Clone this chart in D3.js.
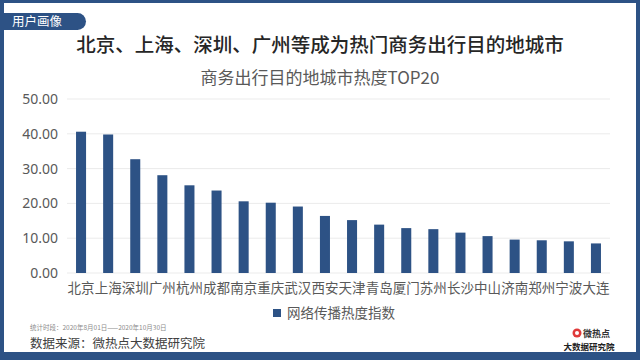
<!DOCTYPE html>
<html><head><meta charset="utf-8">
<script src="https://cdn.jsdelivr.net/npm/d3@7"></script>
<style>
html,body{margin:0;padding:0;background:#fff;}
svg{display:block;font-family:"Noto Sans CJK SC","Noto Sans",sans-serif;}
</style></head>
<body>
<svg id="c" width="640" height="360"></svg>
<script>
const categories = ["北京","上海","深圳","广州","杭州","成都","南京","重庆","武汉","西安","天津","青岛","厦门","苏州","长沙","中山","济南","郑州","宁波","大连"];
const values = [40.6, 39.8, 32.7, 28.1, 25.2, 23.7, 20.6, 20.2, 19.1, 16.4, 15.2, 13.9, 12.9, 12.6, 11.6, 10.6, 9.6, 9.4, 9.1, 8.5];
const yTicks = [0, 10, 20, 30, 40, 50];
const seriesName = "网络传播热度指数";
const title = "北京、上海、深圳、广州等成为热门商务出行目的地城市";
const subtitle = "商务出行目的地城市热度TOP20";
const tabLabel = "用户画像";
const periodNote = "统计时段：2020年8月01日——2020年10月30日";
const sourceNote = "数据来源：微热点大数据研究院";

const blue = "#2d5285";
const svg = d3.select("#c");

// frame
svg.append("rect").attr("x",0).attr("y",0).attr("width",640).attr("height",360).attr("fill",blue);
svg.append("rect").attr("x",4).attr("y",3).attr("width",632).attr("height",349).attr("fill","#fff");

// tab
svg.append("path").attr("fill",blue)
  .attr("d","M0,13 L77.5,13 A8.5,8.5 0 0 1 77.5,30 L0,30 Z");
svg.append("text").attr("x",12).attr("y",26).attr("fill","#fff").attr("font-size",12.5).text(tabLabel);

// titles
svg.append("text").attr("x",320).attr("y",52).attr("text-anchor","middle").attr("fill","#262626")
  .attr("font-size",19.5).attr("font-weight",500).text(title);
svg.append("text").attr("x",320).attr("y",84).attr("text-anchor","middle").attr("fill","#595959")
  .attr("font-size",17).text(subtitle);

// scales
const x = d3.scaleBand().domain(categories).range([67.5,609.5]).paddingInner(0.63).paddingOuter(0.315);
const y = d3.scaleLinear().domain([0,50]).range([273,99]);

// grid
svg.append("g").selectAll("line").data(yTicks).join("line")
  .attr("x1",67).attr("x2",610).attr("y1",d=>y(d)).attr("y2",d=>y(d))
  .attr("stroke","#ebebeb").attr("stroke-width",1);

// y axis
const yAxis = svg.append("g").attr("transform","translate(67,0)")
  .call(d3.axisLeft(y).tickValues(yTicks).tickFormat(d3.format(".2f")).tickSize(0).tickPadding(9));
yAxis.select(".domain").remove();
yAxis.selectAll("text").attr("font-size",14).attr("fill","#595959").attr("font-family","'Noto Sans','Noto Sans CJK SC',sans-serif");

// bars
svg.append("g").selectAll("rect").data(values).join("rect")
  .attr("x",(d,i)=>x(categories[i])).attr("width",x.bandwidth())
  .attr("y",d=>y(d)).attr("height",d=>y(0)-y(d)).attr("fill",blue);

// x axis
const xAxis = svg.append("g").attr("transform","translate(0,273)")
  .call(d3.axisBottom(x).tickSize(0).tickPadding(10));
xAxis.select(".domain").remove();
xAxis.selectAll("text").attr("font-size",13.5).attr("fill","#595959").attr("font-family","'Noto Sans CJK SC',sans-serif");

// legend
svg.append("rect").attr("x",273).attr("y",309).attr("width",8).attr("height",8).attr("fill",blue);
svg.append("text").attr("x",287).attr("y",318).attr("font-size",13.5).attr("fill","#595959").text(seriesName);

// footer
svg.append("text").attr("x",30).attr("y",330).attr("font-size",6.5).attr("fill","#8c8c8c").text(periodNote);
svg.append("text").attr("x",30).attr("y",347.5).attr("font-size",12.5).attr("fill","#404040").text(sourceNote);

// logo
const lg = svg.append("g");
lg.append("circle").attr("cx",577).attr("cy",333).attr("r",4.5).attr("fill","#e03a3a");
lg.append("circle").attr("cx",577).attr("cy",333).attr("r",2).attr("fill","#fff");
lg.append("text").attr("x",583).attr("y",337).attr("font-size",9).attr("font-weight",700).attr("fill","#333").text("微热点");
lg.append("text").attr("x",589).attr("y",350).attr("text-anchor","middle").attr("font-size",8.5).attr("font-weight",700).attr("fill","#222").text("大数据研究院");
</script>
</body></html>
